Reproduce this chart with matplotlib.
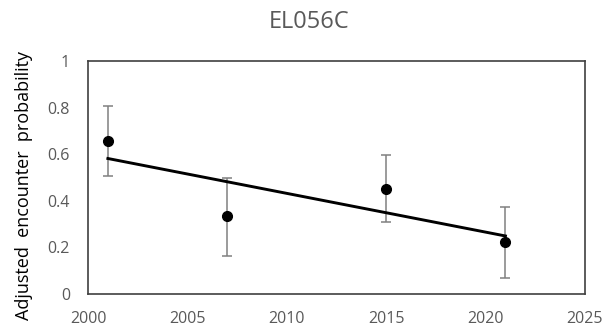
import matplotlib.pyplot as plt
import numpy as np

years = [2001, 2007, 2015, 2021]
prob = [0.655, 0.333, 0.451, 0.222]
upper = [0.807, 0.498, 0.597, 0.372]
lower = [0.506, 0.164, 0.308, 0.067]

plt.rcParams['font.family'] = ['Open Sans', 'DejaVu Sans']
txt = '#595959'

fig = plt.figure(figsize=(6.04, 3.28), dpi=100)
ax = fig.add_axes([0.1457, 0.1037, 0.8228, 0.7103])

yerr = [np.array(prob) - np.array(lower), np.array(upper) - np.array(prob)]
ax.errorbar(years, prob, yerr=yerr, fmt='none', ecolor='#808080',
            elinewidth=1.1, capsize=3.6, capthick=1.1, zorder=2)
ax.plot(years, prob, 'o', color='black', markersize=7, zorder=4)

# linear trend through the points
slope, icpt = np.polyfit(years, prob, 1)
tx = np.array([years[0], years[-1]])
ax.plot(tx, slope * tx + icpt, color='black', linewidth=2.1, zorder=3)

ax.set_xlim(2000, 2025)
ax.set_ylim(0, 1)
ax.set_xticks(range(2000, 2026, 5))
ax.set_yticks([0, 0.2, 0.4, 0.6, 0.8, 1])
ax.set_yticklabels(['0', '0.2', '0.4', '0.6', '0.8', '1'])
ax.tick_params(length=0, labelsize=11.5, colors=txt)
ax.tick_params(axis='x', pad=12)
ax.tick_params(axis='y', pad=13)
for s in ax.spines.values():
    s.set_color('#404040')
    s.set_linewidth(1.2)

fig.text(309 / 604, 1 - 28.5 / 328, 'EL056C', fontsize=17, color=txt,
         ha='center', va='baseline')
fig.text(24 / 604, 1 - 186 / 328, 'Adjusted  encounter  probability',
         fontsize=13, color='black', rotation=90, ha='center', va='center')

fig.savefig('out.png', dpi=100)
